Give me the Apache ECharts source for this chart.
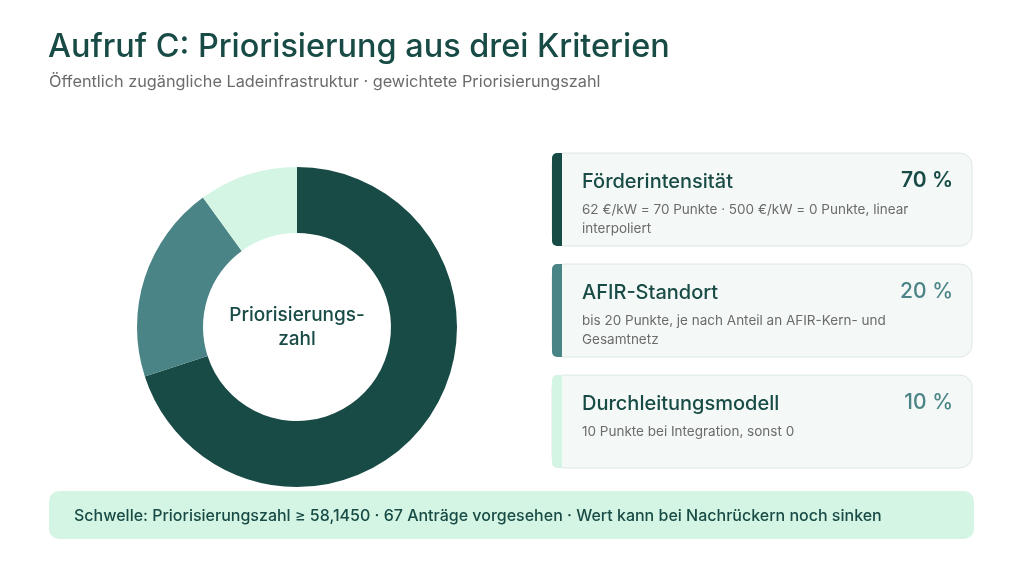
<!DOCTYPE html>
<html lang="de">
<head>
<meta charset="utf-8">
<title>Aufruf C: Priorisierung aus drei Kriterien</title>
<script src="https://cdn.jsdelivr.net/npm/echarts@6/dist/echarts.min.js"></script>
<style>
  html, body { margin: 0; padding: 0; background: #ffffff; }
  #chart { width: 1024px; height: 573px; }
</style>
</head>
<body>
<div id="chart"></div>
<script>
// data
const categories = ['Förderintensität', 'AFIR-Standort', 'Durchleitungsmodell'];
const weights = [70, 20, 10];
const descriptions = [
  '62 €/kW = 70 Punkte · 500 €/kW = 0 Punkte, linear\ninterpoliert',
  'bis 20 Punkte, je nach Anteil an AFIR-Kern- und\nGesamtnetz',
  '10 Punkte bei Integration, sonst 0'
];
const centerLabel = 'Priorisierungs-\nzahl';
const titleText = 'Aufruf C: Priorisierung aus drei Kriterien';
const subtitleText = 'Öffentlich zugängliche Ladeinfrastruktur · gewichtete Priorisierungszahl';
const noteText = 'Schwelle: Priorisierungszahl ≥ 58,1450 · 67 Anträge vorgesehen · Wert kann bei Nachrückern noch sinken';

// styles
const palette = ['#184b45', '#4b8487', '#d4f5e4'];
const pctColors = ['#184b45', '#4b8487', '#4b8487'];
const FONT = 'Inter, "Noto Sans", sans-serif';
const dark = '#184b45';

const chart = echarts.init(document.getElementById('chart'));

const cardX = 552, cardW = 420, cardH = 93, cardTop = 153, cardGap = 111;

const cards = categories.map((name, i) => {
  const y = cardTop + i * cardGap;
  return {
    type: 'group',
    x: cardX,
    y: y,
    silent: true,
    children: [
      {
        type: 'rect',
        shape: { x: 0, y: 0, width: cardW, height: cardH, r: 12 },
        style: { fill: '#f4f8f6', stroke: '#dce8e3', lineWidth: 1 }
      },
      {
        type: 'rect',
        shape: { x: 0, y: 0, width: 10, height: cardH, r: [5, 0, 0, 5] },
        style: { fill: palette[i] }
      },
      {
        type: 'text',
        x: 30, y: 29,
        style: {
          text: name, font: '500 20px ' + FONT, fill: dark,
          verticalAlign: 'middle'
        }
      },
      {
        type: 'text',
        x: 401, y: 28,
        style: {
          text: weights[i] + ' %', font: (i === 0 ? '600 ' : '500 ') + '21px ' + FONT,
          fill: pctColors[i], align: 'right', verticalAlign: 'middle'
        }
      },
      {
        type: 'text',
        x: 30, y: 47,
        style: {
          text: descriptions[i], font: '13.5px ' + FONT, fill: '#6b6b6b',
          lineHeight: 19, verticalAlign: 'top'
        }
      }
    ]
  };
});

const option = {
  animation: false,
  backgroundColor: '#ffffff',
  series: [
    {
      type: 'pie',
      center: [297, 327],
      radius: [94, 160],
      startAngle: 90,
      clockwise: true,
      silent: true,
      label: { show: false },
      labelLine: { show: false },
      itemStyle: { borderWidth: 0 },
      data: categories.map((name, i) => ({
        name: name,
        value: weights[i],
        itemStyle: { color: palette[i] }
      }))
    }
  ],
  graphic: [
    {
      type: 'text', left: 48, top: 31, silent: true,
      style: { text: titleText, font: '500 32.4px ' + FONT, fill: dark }
    },
    {
      type: 'text', left: 49, top: 74, silent: true,
      style: { text: subtitleText, font: '16.3px ' + FONT, fill: '#6b6b6b' }
    },
    {
      type: 'text', x: 297, y: 327, silent: true,
      style: {
        text: centerLabel, font: '500 19px ' + FONT, fill: dark,
        align: 'center', verticalAlign: 'middle', lineHeight: 24
      }
    },
    ...cards,
    {
      type: 'group', x: 49, y: 491, silent: true,
      children: [
        {
          type: 'rect',
          shape: { x: 0, y: 0, width: 925, height: 48, r: 10 },
          style: { fill: '#d4f5e4' }
        },
        {
          type: 'text', x: 25, y: 25,
          style: {
            text: noteText, font: '500 16px ' + FONT, fill: dark,
            verticalAlign: 'middle'
          }
        }
      ]
    }
  ]
};

chart.setOption(option);
window.addEventListener('resize', () => chart.resize());
</script>
</body>
</html>
